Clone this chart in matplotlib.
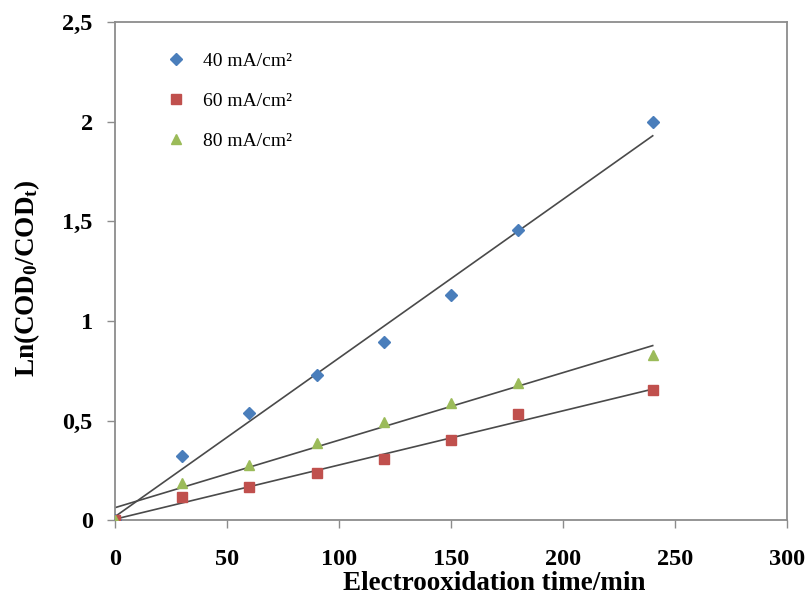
import numpy as np
import matplotlib
matplotlib.use("Agg")
import matplotlib.pyplot as plt
from matplotlib.ticker import FuncFormatter

plt.rcParams["font.family"] = ["Liberation Serif", "DejaVu Serif"]
plt.rcParams["mathtext.fontset"] = "custom"
plt.rcParams["mathtext.rm"] = "Liberation Serif:bold"
plt.rcParams["mathtext.it"] = "Liberation Serif:bold"

# time (min)
time_min = [0, 30, 60, 90, 120, 150, 180, 240]

# Ln(COD0/CODt) for each current density
ln_40 = [0, 0.323, 0.536, 0.729, 0.896, 1.13, 1.457, 2.0]
ln_60 = [0, 0.114, 0.164, 0.235, 0.306, 0.402, 0.531, 0.653]
ln_80 = [0, 0.187, 0.276, 0.388, 0.494, 0.586, 0.690, 0.829]

labels = ["40 mA/cm²", "60 mA/cm²", "80 mA/cm²"]

x = np.array(time_min)

fig = plt.figure(figsize=(8.09, 6.02), dpi=100)
ax = fig.add_axes([0.142, 0.136, 0.831, 0.827])

# linear trend lines
for y in [ln_40, ln_80, ln_60]:
    k, b = np.polyfit(x, y, 1)
    xx = np.array([0, 240])
    ax.plot(xx, k * xx + b, color="#4a4a4a", lw=1.2, zorder=2)

ax.plot(x, ln_40, linestyle="none", marker="D", ms=6, color="#4a7ebb", label=labels[0], zorder=3)
ax.plot(x, ln_60, linestyle="none", marker="s", ms=7, color="#c0504d", label=labels[1], zorder=3)
ax.plot(x, ln_80, linestyle="none", marker="^", ms=7.5, color="#9bbb59", label=labels[2], zorder=3)

ax.set_xlim(0, 300)
ax.set_ylim(0, 2.5)
ax.set_xticks([0, 50, 100, 150, 200, 250, 300])
ax.set_yticks([0, 0.5, 1, 1.5, 2, 2.5])
ax.yaxis.set_major_formatter(FuncFormatter(lambda v, p: f"{v:g}".replace(".", ",")))

for s in ax.spines.values():
    s.set_color("#8c8c8c")
    s.set_linewidth(1.3)

ax.tick_params(axis="both", direction="out", length=6, width=1, color="#8c8c8c",
               labelsize=17.5)
ax.tick_params(axis="x", pad=15)
ax.tick_params(axis="y", pad=10)
for t in ax.get_xticklabels() + ax.get_yticklabels():
    t.set_fontweight("bold")

ax.set_xlabel("Electrooxidation time/min", fontsize=19.5, fontweight="bold")
ax.xaxis.set_label_coords(0.564, -0.103)
ax.set_ylabel(r"Ln(COD$_0$/COD$_t$)", fontsize=19.5, fontweight="bold")
ax.yaxis.set_label_coords(-0.108, 0.487)

ax.legend(loc="upper left", bbox_to_anchor=(0.047, 0.975), frameon=False, fontsize=14,
          labelspacing=1.16, handletextpad=0.8, handlelength=1.2)

fig.savefig("out.png", dpi=100)
